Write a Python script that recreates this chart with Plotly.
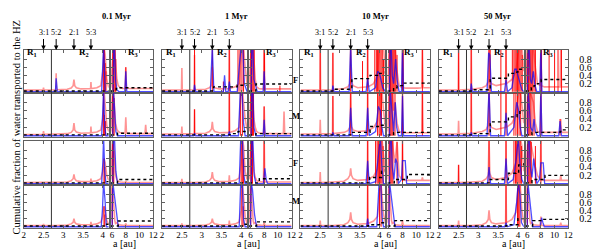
import plotly.graph_objects as go

# ---------------- labels / constants ----------------
TIMES = ["0.1 Myr", "1 Myr", "10 Myr", "50 Myr"]
ROW_TAGS = ["F", "M", "F", "M"]
RESONANCES = [2.50, 2.82, 3.27, 3.70]
RES_LABELS = ["3:1", "5:2", "2:1", "5:3"]
R1_R2_EDGE = 2.7
INNER_RANGE = [2.0, 4.15]
OUTER_RANGE = [5.8, 12.0]
Y_RANGE = [-0.03, 1.02]
INNER_TICKS = [2, 2.5, 3, 3.5, 4]
OUTER_TICKS = [6, 8, 10, 12]
Y_TICKS = [0.2, 0.4, 0.6, 0.8]

# sample positions of the light-red curves
PINK_LX = [2.00, 2.49, 2.50, 2.51, 2.81, 2.82, 2.83, 3.10, 3.20, 3.25, 3.27, 3.29,
           3.33, 3.45, 3.69, 3.70, 3.71, 3.85, 3.95, 4.00, 4.03, 4.06, 4.10, 4.15]
PINK_RX = [5.8, 6.0, 6.1, 6.2, 6.3, 6.4, 6.5, 6.7, 6.9, 7.2, 7.5, 7.9, 8.0, 8.1,
           8.5, 10.2, 10.8, 10.9, 11.0, 12.0]

# ---------------- 0.1 Myr ----------------
pink_left_t01 = [
    [0.04, 0.045, 0.10, 0.045, 0.05, 0.45, 0.05, 0.06, 0.09, 0.15, 0.30, 0.15, 0.10, 0.07, 0.08, 0.24, 0.08, 0.10, 0.15, 0.5, 1.1, 0.9, 0.3, 0.1],
    [0.03, 0.035, 0.11, 0.035, 0.04, 0.04, 0.04, 0.05, 0.08, 0.14, 0.30, 0.14, 0.09, 0.06, 0.07, 0.22, 0.07, 0.09, 0.14, 0.4, 1.1, 0.6, 0.25, 0.1],
    [0.03, 0.03, 0.03, 0.03, 0.03, 0.03, 0.03, 0.04, 0.07, 0.12, 0.22, 0.12, 0.07, 0.05, 0.05, 0.12, 0.05, 0.07, 0.12, 0.3, 0.6, 0.5, 0.2, 0.08],
    [0.03, 0.03, 0.07, 0.03, 0.03, 0.03, 0.03, 0.04, 0.07, 0.11, 0.20, 0.11, 0.07, 0.05, 0.05, 0.12, 0.05, 0.07, 0.12, 0.25, 0.5, 0.4, 0.15, 0.06],
]
pink_right_t01 = [
    [0.1, 0.6, 1.1, 1.1, 1.1, 0.9, 0.6, 0.3, 0.15, 0.1, 0.08, 0.08, 0.6, 0.1, 0.08, 0.08, 0.08, 0.08, 0.08, 0.08],
    [0.1, 1.1, 1.1, 1.1, 0.8, 0.5, 0.3, 0.15, 0.1, 0.07, 0.06, 0.06, 0.44, 0.06, 0.05, 0.05, 0.05, 0.26, 0.05, 0.05],
    [0.1, 1.1, 1.1, 1.0, 0.7, 0.4, 0.2, 0.1, 0.06, 0.04, 0.03, 0.03, 0.06, 0.03, 0.03, 0.03, 0.03, 0.03, 0.03, 0.03],
    [0.1, 1.1, 0.9, 0.6, 0.3, 0.15, 0.08, 0.1, 0.05, 0.04, 0.03, 0.03, 0.08, 0.03, 0.03, 0.03, 0.03, 0.03, 0.03, 0.03],
]
red_left_t01 = [
    [(4.02, 1.1), (4.04, 1.1), (4.06, 0.7), (4.08, 0.5)],
    [(4.02, 1.1), (4.04, 0.5), (4.07, 0.35)],
    [(4.03, 0.6), (4.05, 0.4)],
    [(4.03, 0.5), (4.05, 0.3)],
]
red_right_t01 = [
    [(6.1, 1.1), (6.2, 1.1), (6.3, 1.1), (6.45, 1.1), (6.55, 0.8), (8.0, 0.6)],
    [(6.05, 1.1), (6.15, 1.1), (6.3, 0.9)],
    [(6.05, 1.1), (6.15, 1.1), (6.25, 0.8)],
    [(6.05, 1.1)],
]
blue_left_t01 = [
    [(2.0, 0), (2.80, 0), (2.82, 0.33), (2.85, 0), (3.97, 0), (4.00, 0.5), (4.02, 1.1), (4.04, 0.6), (4.06, 0), (4.15, 0)],
    [(2.0, 0), (3.97, 0), (4.00, 0.6), (4.02, 1.1), (4.05, 0.2), (4.08, 0), (4.15, 0)],
    [(2.0, 0), (3.97, 0), (4.00, 0.5), (4.02, 1.1), (4.05, 0.3), (4.08, 0), (4.15, 0)],
    [(2.0, 0), (3.96, 0), (3.99, 0.4), (4.02, 1.1), (4.06, 0.6), (4.09, 0), (4.15, 0)],
]
blue_right_t01 = [
    [(5.8, 0), (6.15, 0), (6.25, 1.1), (6.35, 1.1), (6.5, 0.3), (6.7, 0.05), (7.0, 0), (7.85, 0), (8.0, 0.5), (8.15, 0), (12, 0)],
    [(5.8, 0), (6.1, 0), (6.2, 1.1), (6.35, 0.6), (6.55, 0.1), (6.8, 0), (12, 0)],
    [(5.8, 0), (6.1, 0), (6.2, 1.1), (6.35, 1.1), (6.55, 0.3), (6.8, 0), (12, 0)],
    [(5.8, 0), (6.0, 0), (6.1, 1.1), (6.3, 0.8), (6.6, 0.3), (6.9, 0), (12, 0)],
]
cum_left_t01 = [
    [(2.0, 0.02), (4.0, 0.02), (4.15, 0.02)],
    [(2.0, 0.02), (4.0, 0.02), (4.05, 0.04), (4.15, 0.04)],
    [(2.0, 0.02), (4.02, 0.02), (4.05, 0.05), (4.15, 0.05)],
    [(2.0, 0.02), (4.02, 0.02), (4.06, 0.06), (4.15, 0.06)],
]
cum_right_t01 = [
    [(5.8, 0.02), (6.5, 0.02), (6.6, 0.08), (7.0, 0.1), (12, 0.1)],
    [(5.8, 0.02), (6.6, 0.02), (6.8, 0.06), (12, 0.06)],
    [(5.8, 0.02), (6.6, 0.02), (6.8, 0.1), (12, 0.1)],
    [(5.8, 0.02), (6.7, 0.02), (6.9, 0.14), (12, 0.14)],
]

# ---------------- 1 Myr ----------------
pink_left_t1 = [
    [0.04, 0.045, 0.58, 0.045, 0.05, 0.9, 0.05, 0.06, 0.1, 0.16, 0.6, 0.16, 0.1, 0.07, 0.08, 1.1, 0.08, 0.12, 0.2, 1.1, 1.1, 1.1, 0.6, 0.2],
    [0.04, 0.045, 0.22, 0.045, 0.05, 0.63, 0.05, 0.06, 0.1, 0.16, 0.33, 0.16, 0.1, 0.07, 0.08, 1.1, 0.08, 0.12, 0.2, 1.1, 1.1, 0.8, 0.4, 0.15],
    [0.03, 0.03, 0.12, 0.03, 0.03, 0.03, 0.03, 0.04, 0.08, 0.14, 0.28, 0.14, 0.08, 0.05, 0.06, 0.2, 0.06, 0.08, 0.14, 0.5, 1.1, 0.9, 0.3, 0.1],
    [0.03, 0.03, 0.08, 0.03, 0.03, 0.03, 0.03, 0.04, 0.07, 0.11, 0.2, 0.11, 0.07, 0.05, 0.05, 0.15, 0.05, 0.07, 0.12, 0.4, 1.1, 0.7, 0.25, 0.08],
]
pink_right_t1 = [
    [0.1, 1.1, 1.1, 1.1, 1.1, 1.1, 0.8, 0.3, 0.12, 0.08, 0.07, 0.07, 1.1, 0.07, 0.07, 0.07, 0.07, 0.07, 0.07, 0.07],
    [0.1, 1.1, 1.1, 1.1, 1.1, 0.8, 0.4, 0.2, 0.1, 0.07, 0.06, 0.06, 0.7, 0.06, 0.05, 0.05, 0.05, 0.58, 0.05, 0.05],
    [0.1, 1.1, 1.1, 1.1, 0.8, 0.5, 0.3, 0.15, 0.08, 0.05, 0.04, 0.04, 1.1, 0.04, 0.04, 0.04, 0.04, 0.04, 0.04, 0.04],
    [0.1, 1.1, 0.9, 0.6, 0.3, 0.15, 0.08, 0.1, 0.05, 0.04, 0.03, 0.03, 0.1, 0.03, 0.03, 0.03, 0.03, 0.03, 0.03, 0.03],
]
red_left_t1 = [
    [(2.82, 1.1), (3.27, 1.1), (3.55, 0.25), (3.70, 1.1), (3.92, 1.1), (3.97, 1.1), (4.02, 1.1), (4.06, 1.1)],
    [(2.82, 0.63), (3.70, 1.1), (3.98, 1.1), (4.03, 1.1)],
    [(4.0, 1.1), (4.03, 1.1), (4.06, 0.6)],
    [(4.02, 1.1), (4.05, 0.5)],
]
red_right_t1 = [
    [(6.05, 1.1), (6.15, 1.1), (6.25, 1.1), (6.4, 1.1), (6.55, 1.1), (8.0, 1.1), (8.05, 1.1), (10.3, 0.15)],
    [(6.05, 1.1), (6.15, 1.1), (6.3, 1.1), (6.45, 1.1), (8.0, 0.7)],
    [(6.05, 1.1), (6.15, 1.1), (6.3, 1.1), (8.0, 1.1)],
    [(6.05, 1.1)],
]
blue_left_t1 = [
    [(2.0, 0), (2.80, 0), (2.82, 0.17), (2.85, 0), (3.22, 0), (3.27, 1.1), (3.31, 0), (3.55, 0), (3.58, 0.4), (3.61, 0), (3.67, 0), (3.70, 0.25), (3.73, 0), (3.9, 0), (3.95, 0.6), (4.0, 1.1), (4.04, 1.1), (4.08, 0.2), (4.15, 0)],
    [(2.0, 0), (2.80, 0), (2.82, 0.06), (2.85, 0), (3.67, 0), (3.70, 0.1), (3.73, 0), (3.93, 0), (3.98, 1.1), (4.02, 1.1), (4.06, 0.3), (4.1, 0), (4.15, 0)],
    [(2.0, 0), (3.95, 0), (3.99, 1.1), (4.03, 1.1), (4.07, 0.2), (4.1, 0), (4.15, 0)],
    [(2.0, 0), (3.95, 0), (3.99, 1.1), (4.03, 1.1), (4.06, 0.2), (4.1, 0), (4.15, 0)],
]
blue_right_t1 = [
    [(5.8, 0), (6.1, 0), (6.2, 1.1), (6.35, 1.1), (6.5, 0.3), (6.8, 0.1), (7.0, 0), (7.85, 0), (8.0, 0.5), (8.15, 0), (12, 0)],
    [(5.8, 0), (6.1, 0), (6.2, 1.1), (6.35, 1.1), (6.5, 0.2), (6.8, 0), (7.85, 0), (8.0, 0.38), (8.15, 0), (12, 0)],
    [(5.8, 0), (6.1, 0), (6.2, 1.1), (6.35, 1.1), (6.55, 0.2), (6.8, 0), (7.9, 0), (8.1, 0.37), (8.3, 0.1), (8.5, 0), (12, 0)],
    [(5.8, 0), (6.0, 0), (6.1, 1.1), (6.3, 0.9), (6.6, 0.3), (6.9, 0), (12, 0)],
]
cum_left_t1 = [
    [(2.0, 0.02), (3.28, 0.02), (3.3, 0.12), (3.88, 0.12), (3.9, 0.16), (4.15, 0.16)],
    [(2.0, 0.02), (3.7, 0.02), (3.72, 0.05), (3.9, 0.05), (3.92, 0.1), (4.15, 0.1)],
    [(2.0, 0.02), (4.0, 0.02), (4.03, 0.04), (4.15, 0.04)],
    [(2.0, 0.02), (4.02, 0.02), (4.05, 0.06), (4.15, 0.06)],
]
cum_right_t1 = [
    [(5.8, 0.02), (6.6, 0.02), (6.8, 0.19), (12, 0.19)],
    [(5.8, 0.02), (6.6, 0.02), (6.8, 0.05), (12, 0.05)],
    [(5.8, 0.02), (6.9, 0.02), (7.0, 0.08), (7.3, 0.12), (12, 0.12)],
    [(5.8, 0.02), (6.7, 0.02), (6.9, 0.12), (12, 0.12)],
]

# ---------------- 10 Myr ----------------
pink_left_t10 = [
    [0.04, 0.045, 1.1, 0.045, 0.05, 0.95, 0.05, 0.08, 0.12, 0.2, 1.1, 0.25, 0.15, 0.1, 0.12, 1.1, 0.12, 0.2, 0.4, 1.1, 1.1, 1.1, 1.1, 0.4],
    [0.04, 0.045, 0.38, 0.045, 0.05, 0.95, 0.05, 0.08, 0.12, 0.2, 1.1, 0.22, 0.14, 0.1, 0.12, 1.1, 0.12, 0.2, 0.35, 1.1, 1.1, 1.1, 0.6, 0.2],
    [0.03, 0.03, 0.28, 0.03, 0.04, 0.04, 0.04, 0.06, 0.12, 0.2, 0.37, 0.2, 0.12, 0.08, 0.1, 1.1, 0.1, 0.18, 0.35, 1.1, 1.1, 1.1, 0.7, 0.25],
    [0.03, 0.03, 0.15, 0.03, 0.03, 0.03, 0.03, 0.05, 0.1, 0.18, 0.35, 0.18, 0.1, 0.06, 0.08, 1.1, 0.08, 0.14, 0.25, 0.8, 1.1, 0.8, 0.3, 0.1],
]
pink_right_t10 = [
    [0.1, 1.1, 1.1, 1.1, 1.1, 1.1, 1.1, 1.1, 1.1, 0.5, 0.15, 0.1, 1.1, 0.1, 0.09, 0.09, 0.1, 1.1, 0.1, 0.1],
    [0.1, 1.1, 1.1, 1.1, 1.1, 1.1, 1.0, 0.6, 0.8, 0.3, 0.1, 0.08, 1.1, 0.08, 0.07, 0.07, 0.07, 1.1, 0.07, 0.07],
    [0.1, 1.1, 1.1, 1.1, 1.1, 1.1, 1.0, 0.8, 0.5, 1.0, 0.2, 0.1, 1.1, 0.1, 0.08, 0.08, 0.08, 0.15, 0.08, 0.08],
    [0.1, 1.1, 0.9, 0.6, 0.3, 0.15, 0.08, 0.1, 0.05, 0.04, 0.03, 0.03, 0.15, 0.03, 0.03, 0.03, 0.03, 0.03, 0.03, 0.03],
]
red_left_t10 = [
    [(2.5, 1.1), (2.82, 0.95), (3.27, 1.1), (3.57, 0.75), (3.70, 1.1), (3.88, 1.1), (3.92, 1.1), (3.95, 1.1), (3.98, 1.1), (4.01, 1.1), (4.04, 1.1), (4.07, 1.1), (4.10, 0.8)],
    [(2.82, 0.95), (3.27, 1.1), (3.70, 1.1), (3.95, 1.1), (3.99, 1.1), (4.02, 1.1), (4.05, 1.1)],
    [(3.70, 1.1), (3.90, 1.1), (3.94, 1.1), (3.97, 1.1), (4.0, 1.1), (4.03, 1.1), (4.06, 1.1), (4.09, 0.9)],
    [(3.70, 1.1), (4.0, 1.1), (4.04, 1.1)],
]
red_right_t10 = [
    [(6.05, 1.1), (6.15, 1.1), (6.25, 1.1), (6.35, 1.1), (6.5, 1.1), (6.65, 1.1), (6.8, 1.1), (7.0, 1.1), (7.2, 0.9), (8.0, 1.1), (8.1, 1.1), (10.9, 1.1)],
    [(6.05, 1.1), (6.15, 1.1), (6.3, 1.1), (6.45, 1.1), (6.6, 1.1), (6.9, 1.0), (8.0, 1.1), (10.9, 1.1)],
    [(6.05, 1.1), (6.15, 1.1), (6.3, 1.1), (6.45, 1.1), (6.6, 1.1), (7.2, 1.0), (8.0, 1.1)],
    [(6.05, 1.1)],
]
blue_left_t10 = [
    [(2.0, 0), (2.80, 0), (2.82, 0.15), (2.85, 0), (3.23, 0), (3.27, 1.1), (3.31, 0), (3.66, 0), (3.70, 0.33), (3.74, 0), (3.9, 0.1), (3.95, 0.5), (4.0, 0.45), (4.04, 0.3), (4.08, 0.1), (4.15, 0)],
    [(2.0, 0), (2.80, 0), (2.82, 0.08), (2.85, 0), (3.23, 0), (3.27, 0.67), (3.31, 0), (3.66, 0), (3.70, 0.67), (3.74, 0), (3.9, 0.1), (3.97, 0.7), (4.02, 0.6), (4.06, 0.2), (4.1, 0), (4.15, 0)],
    [(2.0, 0), (3.66, 0), (3.70, 0.55), (3.74, 0), (3.9, 0.05), (3.97, 0.6), (4.02, 1.1), (4.06, 0.4), (4.1, 0), (4.15, 0)],
    [(2.0, 0), (3.67, 0), (3.70, 0.2), (3.73, 0), (3.93, 0), (3.99, 1.1), (4.03, 1.1), (4.07, 0.2), (4.1, 0), (4.15, 0)],
]
blue_right_t10 = [
    [(5.8, 0), (6.1, 0), (6.2, 1.1), (6.35, 1.1), (6.5, 0.4), (6.7, 0.2), (7.0, 0.8), (7.2, 0.3), (7.5, 0), (7.85, 0), (8.0, 1.1), (8.15, 0), (12, 0)],
    [(5.8, 0), (6.1, 0), (6.2, 1.1), (6.35, 0.8), (6.5, 0.3), (6.7, 0.1), (6.95, 0.8), (7.15, 0.2), (7.4, 0), (7.85, 0), (8.0, 0.95), (8.15, 0), (12, 0)],
    [(5.8, 0), (6.1, 0), (6.2, 1.1), (6.35, 1.1), (6.5, 0.4), (6.75, 0.1), (7.0, 0.6), (7.2, 0.5), (7.4, 0), (7.85, 0.1), (8.0, 0.55), (8.4, 0.55), (8.6, 0), (12, 0)],
    [(5.8, 0), (6.0, 0), (6.1, 1.1), (6.3, 0.8), (6.6, 0.3), (6.9, 0), (12, 0)],
]
cum_left_t10 = [
    [(2.0, 0.02), (2.8, 0.02), (2.82, 0.06), (3.27, 0.06), (3.3, 0.32), (3.74, 0.32), (3.76, 0.4), (3.95, 0.45), (4.15, 0.5)],
    [(2.0, 0.02), (3.27, 0.02), (3.3, 0.08), (3.74, 0.08), (3.76, 0.22), (4.0, 0.25), (4.15, 0.3)],
    [(2.0, 0.02), (3.72, 0.02), (3.75, 0.15), (4.0, 0.15), (4.05, 0.3), (4.15, 0.35)],
    [(2.0, 0.02), (3.7, 0.02), (3.72, 0.05), (3.97, 0.05), (4.0, 0.1), (4.15, 0.12)],
]
cum_right_t10 = [
    [(5.8, 0.02), (6.5, 0.02), (6.7, 0.1), (7.2, 0.15), (7.8, 0.15), (8.1, 0.21), (12, 0.21)],
    [(5.8, 0.02), (6.5, 0.02), (6.7, 0.08), (12, 0.1)],
    [(5.8, 0.02), (6.6, 0.02), (6.8, 0.1), (8.5, 0.1), (8.7, 0.22), (12, 0.22)],
    [(5.8, 0.02), (6.7, 0.02), (6.9, 0.15), (12, 0.15)],
]

# ---------------- 50 Myr ----------------
pink_left_t50 = [
    [0.04, 0.045, 1.1, 0.045, 0.06, 1.1, 0.06, 0.1, 0.15, 0.25, 1.1, 0.3, 0.2, 0.15, 0.2, 1.1, 0.2, 0.3, 0.5, 1.1, 1.1, 1.1, 1.1, 0.5],
    [0.04, 0.045, 0.36, 0.045, 0.06, 1.1, 0.06, 0.1, 0.15, 0.25, 1.1, 0.3, 0.2, 0.15, 0.2, 1.1, 0.2, 0.3, 0.5, 1.1, 1.1, 1.1, 0.8, 0.3],
    [0.03, 0.03, 0.45, 0.03, 0.04, 0.04, 0.04, 0.06, 0.12, 0.2, 1.1, 0.25, 0.15, 0.1, 0.15, 1.1, 0.15, 0.25, 0.5, 1.1, 1.1, 1.1, 0.9, 0.3],
    [0.03, 0.03, 0.15, 0.03, 0.03, 0.03, 0.03, 0.05, 0.1, 0.18, 0.4, 0.18, 0.1, 0.07, 0.1, 1.1, 0.1, 0.18, 0.35, 0.9, 1.1, 1.0, 0.4, 0.1],
]
pink_right_t50 = [
    [0.12, 1.1, 1.1, 1.1, 1.1, 1.1, 1.1, 1.1, 1.1, 0.6, 0.2, 0.15, 1.1, 0.15, 0.12, 0.12, 0.12, 1.1, 0.12, 0.12],
    [0.1, 1.1, 1.1, 1.1, 1.1, 1.1, 1.0, 0.9, 0.8, 0.3, 0.1, 0.08, 1.1, 0.08, 0.08, 0.08, 0.08, 0.4, 0.08, 0.08],
    [0.1, 1.1, 1.1, 1.1, 1.1, 1.1, 1.0, 0.8, 0.6, 0.4, 0.2, 0.1, 1.1, 0.1, 0.08, 0.08, 0.08, 0.2, 0.08, 0.08],
    [0.1, 1.1, 0.9, 0.6, 0.3, 0.15, 0.08, 0.1, 0.05, 0.04, 0.03, 0.03, 0.25, 0.03, 0.03, 0.03, 0.03, 0.1, 0.03, 0.03],
]
red_left_t50 = [
    [(2.5, 1.1), (2.82, 1.1), (3.27, 1.1), (3.30, 1.1), (3.57, 1.1), (3.70, 1.1), (3.86, 1.1), (3.9, 1.1), (3.93, 1.1), (3.96, 1.1), (3.99, 1.1), (4.02, 1.1), (4.05, 1.1), (4.08, 1.1), (4.11, 0.9)],
    [(2.82, 1.1), (3.27, 1.1), (3.57, 1.1), (3.70, 1.1), (3.90, 1.1), (3.95, 1.1), (3.99, 1.1), (4.03, 1.1), (4.07, 1.1)],
    [(2.5, 0.45), (3.27, 1.1), (3.70, 1.1), (3.9, 1.1), (3.94, 1.1), (3.97, 1.1), (4.0, 1.1), (4.03, 1.1), (4.06, 1.1), (4.09, 0.9)],
    [(3.70, 1.1), (3.99, 1.1), (4.02, 1.1), (4.05, 1.1)],
]
red_right_t50 = [
    [(6.0, 1.1), (6.1, 1.1), (6.2, 1.1), (6.3, 1.1), (6.45, 1.1), (6.6, 1.1), (6.8, 1.1), (7.0, 1.1), (7.2, 1.1), (8.0, 1.1), (8.1, 1.1), (9.2, 1.1), (10.0, 1.1), (10.5, 1.1), (11.0, 1.1)],
    [(6.05, 1.1), (6.15, 1.1), (6.3, 1.1), (6.45, 1.1), (6.7, 1.0), (7.0, 1.0), (8.0, 1.1), (10.8, 0.4)],
    [(6.05, 1.1), (6.15, 1.1), (6.3, 1.1), (6.45, 1.1), (6.6, 1.0), (7.2, 0.9), (8.0, 1.1)],
    [(6.05, 1.1)],
]
blue_left_t50 = [
    [(2.0, 0), (2.80, 0), (2.82, 0.2), (2.85, 0), (3.22, 0), (3.26, 0.95), (3.29, 0.9), (3.33, 0), (3.66, 0), (3.70, 0.3), (3.74, 0), (3.85, 0.1), (3.92, 0.55), (3.96, 0.55), (4.0, 0.4), (4.05, 0.2), (4.1, 0.05), (4.15, 0)],
    [(2.0, 0), (2.80, 0), (2.82, 0.08), (2.85, 0), (3.22, 0), (3.27, 1.1), (3.31, 0), (3.66, 0), (3.70, 0.55), (3.74, 0), (3.9, 0.2), (3.97, 0.8), (4.02, 0.6), (4.06, 0.2), (4.1, 0), (4.15, 0)],
    [(2.0, 0), (3.23, 0), (3.27, 0.4), (3.31, 0), (3.66, 0), (3.70, 0.6), (3.74, 0), (3.88, 0.1), (3.96, 0.6), (4.01, 1.1), (4.05, 0.5), (4.1, 0.1), (4.15, 0)],
    [(2.0, 0), (3.67, 0), (3.70, 0.1), (3.73, 0), (3.9, 0.05), (3.97, 0.6), (4.01, 1.1), (4.05, 0.8), (4.09, 0.1), (4.15, 0)],
]
blue_right_t50 = [
    [(5.8, 0), (6.05, 0), (6.15, 1.1), (6.3, 1.1), (6.45, 0.3), (6.65, 0.2), (6.9, 0.5), (7.1, 0.2), (7.4, 0), (7.85, 0), (8.0, 1.1), (8.15, 0), (12, 0)],
    [(5.8, 0), (6.05, 0), (6.15, 1.1), (6.3, 0.7), (6.5, 0.2), (6.8, 0.1), (7.0, 0.4), (7.2, 0.1), (7.5, 0), (7.85, 0), (8.0, 1.1), (8.15, 0), (10.6, 0), (10.8, 0.35), (11.0, 0), (12, 0)],
    [(5.8, 0), (6.05, 0), (6.15, 1.1), (6.3, 1.1), (6.45, 0.4), (6.7, 0.15), (6.95, 0.6), (7.15, 0.3), (7.4, 0), (7.8, 0.1), (8.0, 0.5), (8.35, 0.5), (8.55, 0), (12, 0)],
    [(5.8, 0), (6.0, 0), (6.1, 1.1), (6.3, 0.8), (6.55, 0.3), (6.8, 0), (7.9, 0), (8.1, 0.22), (8.3, 0.1), (8.5, 0), (12, 0)],
]
cum_left_t50 = [
    [(2.0, 0.02), (2.8, 0.02), (2.82, 0.05), (3.25, 0.1), (3.3, 0.33), (3.74, 0.33), (3.76, 0.45), (3.95, 0.48), (4.0, 0.55), (4.15, 0.6)],
    [(2.0, 0.02), (2.8, 0.02), (2.82, 0.05), (3.27, 0.05), (3.3, 0.33), (3.74, 0.33), (3.76, 0.45), (3.98, 0.5), (4.05, 0.6), (4.15, 0.62)],
    [(2.0, 0.02), (3.27, 0.02), (3.3, 0.1), (3.74, 0.1), (3.76, 0.25), (3.95, 0.28), (4.02, 0.45), (4.15, 0.5)],
    [(2.0, 0.02), (3.7, 0.02), (3.72, 0.05), (3.95, 0.05), (4.0, 0.2), (4.15, 0.22)],
]
cum_right_t50 = [
    [(5.8, 0.02), (6.4, 0.02), (6.6, 0.1), (7.0, 0.15), (7.5, 0.2), (8.05, 0.3), (12, 0.3)],
    [(5.8, 0.02), (6.5, 0.02), (6.7, 0.08), (10.8, 0.1), (10.9, 0.14), (12, 0.14)],
    [(5.8, 0.02), (6.5, 0.02), (6.7, 0.1), (8.4, 0.1), (8.6, 0.2), (12, 0.2)],
    [(5.8, 0.02), (6.6, 0.02), (6.8, 0.15), (8.3, 0.15), (8.4, 0.18), (12, 0.18)],
]

PINK_L = [pink_left_t01, pink_left_t1, pink_left_t10, pink_left_t50]
PINK_R = [pink_right_t01, pink_right_t1, pink_right_t10, pink_right_t50]
RED_L = [red_left_t01, red_left_t1, red_left_t10, red_left_t50]
RED_R = [red_right_t01, red_right_t1, red_right_t10, red_right_t50]
BLUE_L = [blue_left_t01, blue_left_t1, blue_left_t10, blue_left_t50]
BLUE_R = [blue_right_t01, blue_right_t1, blue_right_t10, blue_right_t50]
CUM_L = [cum_left_t01, cum_left_t1, cum_left_t10, cum_left_t50]
CUM_R = [cum_right_t01, cum_right_t1, cum_right_t10, cum_right_t50]

# ---------------- layout geometry (pixels) ----------------
W, H = 598, 250
COL_X0, COL_STEP = 22, 140
LEFT_W, GAP, RIGHT_W = 86, 2, 43
ROW_TOP = [50, 93, 141, 185]
ROW_BOT = [93, 137, 185, 228]

SERIF = "Liberation Serif, Times New Roman, serif"
FRAME = "#606060"
PINK = "rgba(255,60,60,0.55)"
RED = "rgba(255,0,0,0.95)"
BLUE = "rgba(10,10,255,0.72)"


def px(xp):
    return xp / W


def py(yp):
    return 1 - yp / H


fig = go.Figure()
layout = {}
shapes = []
annotations = []


def unzip(pts):
    return [p[0] for p in pts], [p[1] for p in pts]


def stems(spikes):
    xs, ys = [], []
    for a, h in spikes:
        xs += [a, a, None]
        ys += [0, h, None]
    return xs, ys


for c in range(4):
    for r in range(4):
        for s in range(2):
            p = (r * 4 + c) * 2 + s + 1
            xa = "x" if p == 1 else f"x{p}"
            ya = "y" if p == 1 else f"y{p}"
            xkey = "xaxis" if p == 1 else f"xaxis{p}"
            ykey = "yaxis" if p == 1 else f"yaxis{p}"
            if s == 0:
                x0 = COL_X0 + c * COL_STEP
                x1 = x0 + LEFT_W
                pink_x, pink_y = PINK_LX, PINK_L[c][r]
                red = RED_L[c][r]
                blue = BLUE_L[c][r]
                cum = CUM_L[c][r]
                rng, tv = INNER_RANGE, INNER_TICKS
            else:
                x0 = COL_X0 + c * COL_STEP + LEFT_W + GAP
                x1 = x0 + RIGHT_W
                pink_x, pink_y = PINK_RX, PINK_R[c][r]
                red = RED_R[c][r]
                blue = BLUE_R[c][r]
                cum = CUM_R[c][r]
                rng, tv = OUTER_RANGE, OUTER_TICKS

            fig.add_trace(go.Scatter(x=pink_x, y=pink_y, mode="lines", xaxis=xa, yaxis=ya,
                                     line=dict(color=PINK, width=1.6), hoverinfo="skip"))
            sx, sy = stems(red)
            fig.add_trace(go.Scatter(x=sx, y=sy, mode="lines", xaxis=xa, yaxis=ya,
                                     line=dict(color=RED, width=1.0), hoverinfo="skip"))
            bx, by = unzip(blue)
            fig.add_trace(go.Scatter(x=bx, y=by, mode="lines", xaxis=xa, yaxis=ya,
                                     line=dict(color=BLUE, width=1.3), hoverinfo="skip"))
            cx, cy = unzip(cum)
            fig.add_trace(go.Scatter(x=cx, y=cy, mode="lines", xaxis=xa, yaxis=ya,
                                     line=dict(color="black", width=1.4, dash="dot", shape="hv"),
                                     hoverinfo="skip"))

            layout[xkey] = dict(
                domain=[px(x0), px(x1)], range=rng, anchor=ya,
                showline=True, mirror="ticks", linecolor=FRAME, linewidth=1,
                ticks="inside", ticklen=3, tickcolor=FRAME, tickwidth=1,
                tickvals=tv, ticktext=[f"{v:g}" for v in tv],
                showticklabels=(r == 3), showgrid=False, zeroline=False,
                ticklabelstandoff=-2,
                tickfont=dict(family=SERIF, size=9, color="black"),
            )
            label_y = (c == 3 and s == 1)
            layout[ykey] = dict(
                domain=[py(ROW_BOT[r]), py(ROW_TOP[r])], range=Y_RANGE, anchor=xa,
                showline=True, mirror="ticks", linecolor=FRAME, linewidth=1,
                ticks="inside", ticklen=3, tickcolor=FRAME, tickwidth=1,
                tickvals=Y_TICKS, ticktext=[f"{v:g}" for v in Y_TICKS],
                showticklabels=label_y, side="right" if label_y else "left",
                ticklabelstandoff=8,
                showgrid=False, zeroline=False,
                tickfont=dict(family=SERIF, size=10, color="black"),
            )
            if s == 0:
                shapes.append(dict(type="line", xref=xa, yref=f"{ya} domain",
                                   x0=R1_R2_EDGE, x1=R1_R2_EDGE, y0=0, y1=1,
                                   line=dict(color="#333333", width=1)))
            if r == 0 and s == 0:
                for a_res, lab in zip(RESONANCES, RES_LABELS):
                    annotations.append(dict(
                        x=a_res, xref=xa, y=py(ROW_TOP[0]), yref="paper",
                        text=lab, showarrow=True, ax=0, ay=-17, arrowhead=2,
                        arrowsize=0.9, arrowwidth=1, arrowcolor="black",
                        font=dict(family=SERIF, size=8, color="black")))
                annotations.append(dict(x=2.22, xref=xa, y=py(45), yref="paper",
                                        text="<b>R<sub>1</sub></b>", showarrow=False,
                                        font=dict(family=SERIF, size=9, color="black")))
                annotations.append(dict(x=3.52, xref=xa, y=py(45), yref="paper",
                                        text="<b>R<sub>2</sub></b>", showarrow=False,
                                        font=dict(family=SERIF, size=9, color="black")))
            if r == 0 and s == 1:
                annotations.append(dict(x=9.0, xref=xa, y=py(45), yref="paper",
                                        text="<b>R<sub>3</sub></b>", showarrow=False,
                                        font=dict(family=SERIF, size=9, color="black")))

# column titles and x titles
TITLE_X = [99, 237, 378, 517]
XTITLE_X = [111, 249, 388, 530]
for c in range(4):
    annotations.append(dict(x=px(TITLE_X[c]), y=py(9), xref="paper", yref="paper",
                            text=f"<b>{TIMES[c]}</b>", showarrow=False,
                            font=dict(family=SERIF, size=8.5, color="black")))
    annotations.append(dict(x=px(XTITLE_X[c]), y=0, xref="paper", yref="paper",
                            yanchor="bottom", borderpad=0,
                            text="a [au]", showarrow=False,
                            font=dict(family=SERIF, size=10, color="black")))

# F / M row tags
TAG_Y = [73, 116, 170, 208]
for r in range(4):
    annotations.append(dict(x=px(297), y=py(TAG_Y[r]), xref="paper", yref="paper",
                            text=f"<b>{ROW_TAGS[r]}</b>", showarrow=False,
                            font=dict(family=SERIF, size=8.5, color="black")))

annotations.append(dict(x=px(7), y=py(127), xref="paper", yref="paper",
                        text="Cumulative fraction of water transported to the HZ",
                        textangle=-90, showarrow=False,
                        font=dict(family=SERIF, size=10.5, color="black")))

fig.update_layout(
    width=W, height=H, autosize=False,
    margin=dict(l=0, r=0, t=0, b=0),
    paper_bgcolor="white", plot_bgcolor="white",
    showlegend=False, shapes=shapes, annotations=annotations,
    **layout,
)

fig.write_html("out.html", config={"displayModeBar": False},
               post_script="document.body.style.margin='0';document.body.style.padding='0';")
